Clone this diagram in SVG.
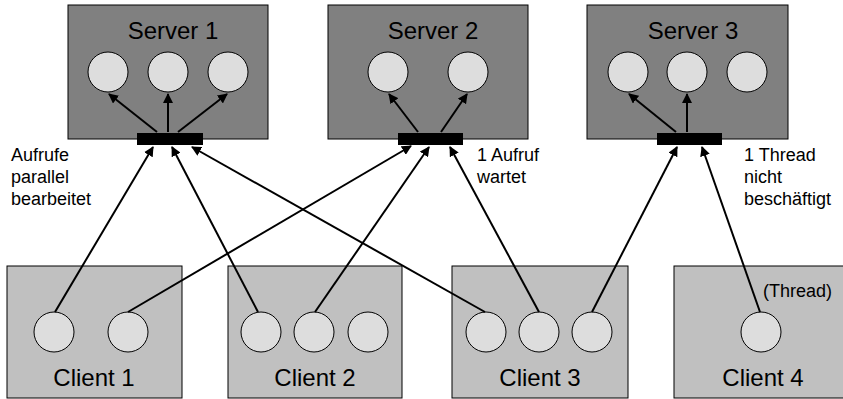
<svg xmlns="http://www.w3.org/2000/svg" width="843" height="399" viewBox="0 0 843 399">
<defs>
<style>
.srv{fill:#808080;stroke:#000;stroke-width:1}
.cli{fill:#C0C0C0;stroke:#000;stroke-width:1}
.th{fill:#DDDDDD;stroke:#000;stroke-width:1}
.bar{fill:#000}
.t{font-family:"Liberation Sans",Arial,sans-serif;font-size:24px;fill:#000;text-anchor:middle}
.l{font-family:"Liberation Sans",Arial,sans-serif;font-size:18px;fill:#000}
.c{stroke:#000;stroke-width:2;fill:none;marker-end:url(#ah)}
</style>
<marker id="ah" viewBox="0 0 10 10" refX="9" refY="5" markerWidth="5" markerHeight="5" orient="auto" markerUnits="strokeWidth">
<path d="M0,0 L10,5 L0,10 z" fill="#000"/>
</marker>
</defs>
<rect width="843" height="399" fill="#fff"/>
<g id="server1">
<rect class="srv" x="68" y="5" width="200" height="134"/>
<text class="t" x="173" y="39">Server 1</text>
<circle class="th" cx="108" cy="72" r="20"/>
<circle class="th" cx="168" cy="72" r="20"/>
<circle class="th" cx="228" cy="72" r="20"/>
<rect class="bar" x="137" y="133" width="66" height="12"/>
</g>
<g id="server2">
<rect class="srv" x="328" y="5" width="200" height="134"/>
<text class="t" x="433" y="39">Server 2</text>
<circle class="th" cx="388" cy="72" r="20"/>
<circle class="th" cx="468" cy="72" r="20"/>
<rect class="bar" x="398" y="133" width="65" height="12"/>
</g>
<g id="server3">
<rect class="srv" x="587" y="5" width="201" height="134"/>
<text class="t" x="693" y="39">Server 3</text>
<circle class="th" cx="628" cy="72" r="20"/>
<circle class="th" cx="687" cy="72" r="20"/>
<circle class="th" cx="747" cy="72" r="20"/>
<rect class="bar" x="657" y="133" width="65" height="12"/>
</g>
<g id="client1">
<rect class="cli" x="7" y="266" width="175" height="132"/>
<circle class="th" cx="54" cy="332" r="20"/>
<circle class="th" cx="128" cy="332" r="20"/>
<text class="t" x="94" y="386">Client 1</text>
</g>
<g id="client2">
<rect class="cli" x="228" y="266" width="174" height="132"/>
<circle class="th" cx="261" cy="332" r="20"/>
<circle class="th" cx="314" cy="332" r="20"/>
<circle class="th" cx="368" cy="332" r="20"/>
<text class="t" x="315" y="386">Client 2</text>
</g>
<g id="client3">
<rect class="cli" x="452" y="266" width="176" height="132"/>
<circle class="th" cx="486" cy="332" r="20"/>
<circle class="th" cx="539" cy="332" r="20"/>
<circle class="th" cx="592" cy="332" r="20"/>
<text class="t" x="540" y="386">Client 3</text>
</g>
<g id="client4">
<rect class="cli" x="674" y="266" width="176" height="132"/>
<circle class="th" cx="761" cy="332" r="20"/>
<text class="t" x="763" y="386">Client 4</text>
<text class="l" x="763" y="297">(Thread)</text>
</g>
<g id="labels">
<text class="l" x="11" y="161">Aufrufe</text>
<text class="l" x="11" y="183">parallel</text>
<text class="l" x="11" y="205">bearbeitet</text>
<text class="l" x="477" y="161">1 Aufruf</text>
<text class="l" x="477" y="183">wartet</text>
<text class="l" x="744" y="161">1 Thread</text>
<text class="l" x="744" y="183">nicht</text>
<text class="l" x="744" y="205">beschäftigt</text>
</g>
<g id="connectors">
<line class="c" x1="157" y1="132" x2="109" y2="94"/>
<line class="c" x1="168" y1="132" x2="168" y2="94"/>
<line class="c" x1="178" y1="132" x2="227" y2="94"/>
<line class="c" x1="418" y1="132" x2="389" y2="94"/>
<line class="c" x1="441" y1="132" x2="467" y2="94"/>
<line class="c" x1="676" y1="132" x2="629" y2="94"/>
<line class="c" x1="687" y1="132" x2="687" y2="94"/>
<line class="c" x1="55" y1="312" x2="153" y2="147"/>
<line class="c" x1="258" y1="312" x2="172" y2="147"/>
<line class="c" x1="485" y1="312" x2="192" y2="147"/>
<line class="c" x1="128" y1="312" x2="411" y2="146"/>
<line class="c" x1="315" y1="312" x2="429" y2="147"/>
<line class="c" x1="539" y1="312" x2="450" y2="147"/>
<line class="c" x1="592" y1="312" x2="677" y2="147"/>
<line class="c" x1="760" y1="312" x2="702" y2="147"/>
</g>
</svg>
